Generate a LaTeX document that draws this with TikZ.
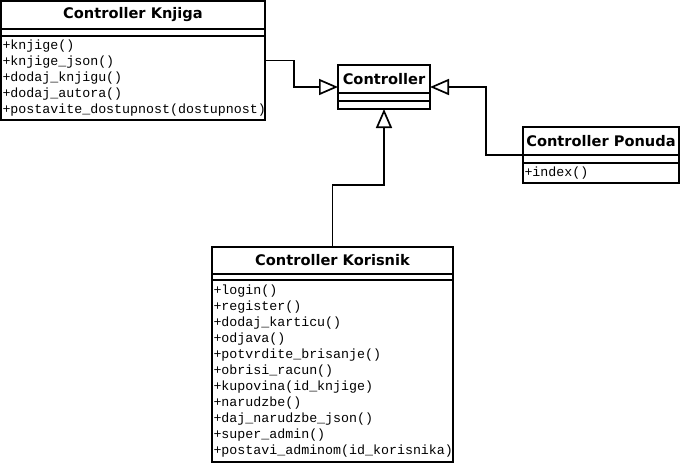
\documentclass[tikz,border=0pt]{standalone}
\usepackage{fontspec}
\setmonofont{Liberation Mono}
\newfontfamily\clsfont{DejaVu Sans}
\usepackage{tikz}
\usetikzlibrary{arrows.meta}
\usetikzlibrary{positioning,fit}

\begin{document}
\begin{tikzpicture}[x=1pt,y=-1pt,
  cls/.style={draw,line width=2pt,inner sep=0pt,outer sep=0pt,anchor=north west},
  clsname/.style={cls,minimum height=28pt,font={\clsfont\fontsize{14.6}{16}\selectfont\bfseries}},
  clsattr/.style={cls,minimum height=7pt,anchor=north},
  clsops/.style={cls,anchor=north,align=left,inner xsep=1.5pt,font={\ttfamily\fontsize{13.3}{16}\selectfont}},
  clsbox/.style={inner sep=0pt,outer sep=0pt},
  inherit/.style={line width=1.7pt,-{Triangle[open,length=19pt,width=16pt]}}]
\useasboundingbox (0,0) rectangle (680,464);
\node[clsname,minimum width=264pt] (knjiga) at (1,1) {Controller Knjiga};
\node[clsattr,minimum width=264pt] (knjiga attr) at (knjiga.south) {};
\node[clsops,text width=261pt,minimum height=84pt] (knjiga ops) at (knjiga attr.south) {+knjige()\\+knjige\_json()\\+dodaj\_knjigu()\\+dodaj\_autora()\\+postavite\_dostupnost(dostupnost)};
\node[clsbox,fit=(knjiga)(knjiga ops)] (knjiga box) {};
\node[clsname,minimum width=92pt] (ctrl) at (338,65) {Controller};
\node[clsattr,minimum width=92pt,minimum height=8pt] (ctrl attr) at (ctrl.south) {};
\node[clsattr,minimum width=92pt,minimum height=8pt] (ctrl ops) at (ctrl attr.south) {};
\node[clsbox,fit=(ctrl)(ctrl ops)] (ctrl box) {};
\node[clsname,minimum width=156pt] (ponuda) at (523,127) {Controller Ponuda};
\node[clsattr,minimum width=156pt,minimum height=8pt] (ponuda attr) at (ponuda.south) {};
\node[clsops,text width=153pt,minimum height=20pt] (ponuda ops) at (ponuda attr.south) {+index()};
\node[clsbox,fit=(ponuda)(ponuda ops)] (ponuda box) {};
\node[clsname,minimum width=241pt,minimum height=27pt] (korisnik) at (212,247) {Controller Korisnik};
\node[clsattr,minimum width=241pt,minimum height=6pt] (korisnik attr) at (korisnik.south) {};
\node[clsops,text width=238pt,minimum height=182pt] (korisnik ops) at (korisnik attr.south) {+login()\\+register()\\+dodaj\_karticu()\\+odjava()\\+potvrdite\_brisanje()\\+obrisi\_racun()\\+kupovina(id\_knjige)\\+narudzbe()\\+daj\_narudzbe\_json()\\+super\_admin()\\+postavi\_adminom(id\_korisnika)};
\node[clsbox,fit=(korisnik)(korisnik ops)] (korisnik box) {};
\draw[inherit] (knjiga box.east) -- ++(29,0) |- (ctrl box.west);
\draw[inherit] (ponuda box.west) -- ++(-37,0) |- (ctrl box.east);
\draw[inherit] (korisnik box.north) -- ++(0,-62) -| (ctrl box.south);
\end{tikzpicture}
\end{document}
